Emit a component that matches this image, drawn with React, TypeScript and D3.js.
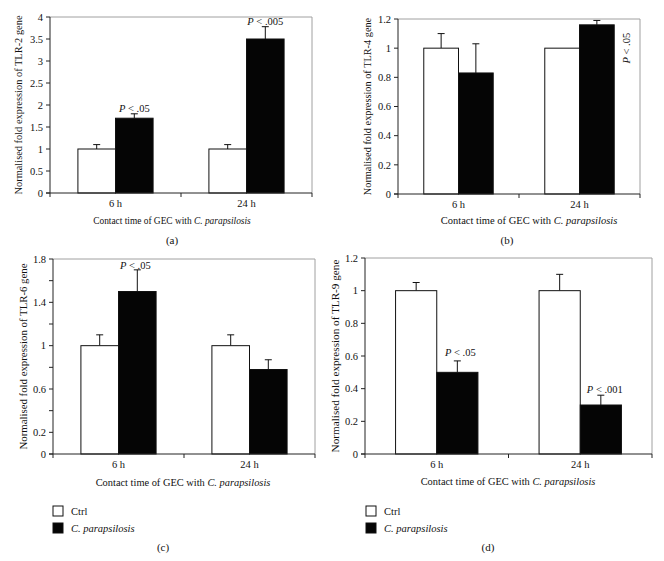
import React from "react";
import * as d3 from "d3";

const categories = ["6 h", "24 h"];
const seriesNames = ["Ctrl", "C. parapsilosis"];

// TLR-2
const tlr2Ctrl = [1, 1];
const tlr2CtrlErr = [0.1, 0.1];
const tlr2Cp = [1.7, 3.5];
const tlr2CpErr = [0.1, 0.28];
const tlr2P = ["P < .05", "P < .005"];
const tlr2Ticks = [0, 0.5, 1, 1.5, 2, 2.5, 3, 3.5, 4];
const tlr2Labels = ["0", "0.5", "1", "1.5", "2", "2.5", "3", "3.5", "4"];

// TLR-4
const tlr4Ctrl = [1, 1];
const tlr4CtrlErr = [0.1, 0];
const tlr4Cp = [0.83, 1.16];
const tlr4CpErr = [0.2, 0.03];
const tlr4P = ["", "P < .05"];
const tlr4Ticks = [0, 0.2, 0.4, 0.6, 0.8, 1, 1.2];
const tlr4Labels = ["0", "0.2", "0.4", "0.6", "0.8", "1", "1.2"];

// TLR-6
const tlr6Ctrl = [1, 1];
const tlr6CtrlErr = [0.1, 0.1];
const tlr6Cp = [1.5, 0.78];
const tlr6CpErr = [0.2, 0.09];
const tlr6P = ["P < .05", ""];
const tlr6Ticks = [0, 0.2, 0.4, 0.6, 0.8, 1, 1.2, 1.4, 1.6, 1.8];
const tlr6Labels = ["0", "0.2", "", "0.6", "", "1", "", "1.4", "", "1.8"];

// TLR-9
const tlr9Ctrl = [1, 1];
const tlr9CtrlErr = [0.05, 0.1];
const tlr9Cp = [0.5, 0.3];
const tlr9CpErr = [0.07, 0.06];
const tlr9P = ["P < .05", "P < .001"];
const tlr9Ticks = [0, 0.2, 0.4, 0.6, 0.8, 1, 1.2];
const tlr9Labels = ["0", "0.2", "0.4", "0.6", "0.8", "1", "1.2"];

const FONT = "'Liberation Serif', 'Times New Roman', serif";

type Panel = {
  gene: string;
  ctrl: number[];
  ctrlErr: number[];
  cp: number[];
  cpErr: number[];
  p: string[];
  ticks: number[];
  labels: string[];
  yMax: number;
  x0: number; x1: number; yTop: number; yBot: number;
  yTitleX: number; yTitleSize: number;
  xTitleX: number; xTitleY: number; xTitleSize: number;
  caption: string; capX: number; capY: number;
  pRot?: boolean;
  pDy: number[]; pDx: number[];
  legend?: { x: number; y: number };
};

const panels: Panel[] = [
  {
    gene: "TLR-2", ctrl: tlr2Ctrl, ctrlErr: tlr2CtrlErr, cp: tlr2Cp, cpErr: tlr2CpErr, p: tlr2P,
    ticks: tlr2Ticks, labels: tlr2Labels, yMax: 4,
    x0: 50, x1: 312, yTop: 17, yBot: 193,
    yTitleX: 18, yTitleSize: 10.4, xTitleX: 172, xTitleY: 224, xTitleSize: 9.4,
    caption: "(a)", capX: 172, capY: 244, pDy: [2, 2], pDx: [0, 0],
  },
  {
    gene: "TLR-4", ctrl: tlr4Ctrl, ctrlErr: tlr4CtrlErr, cp: tlr4Cp, cpErr: tlr4CpErr, p: tlr4P,
    ticks: tlr4Ticks, labels: tlr4Labels, yMax: 1.2,
    x0: 398, x1: 640, yTop: 19, yBot: 194,
    yTitleX: 367, yTitleSize: 10.3, xTitleX: 529, xTitleY: 224, xTitleSize: 10.5,
    caption: "(b)", capX: 507, capY: 244, pRot: true, pDy: [0, 0], pDx: [0, 0],
  },
  {
    gene: "TLR-6", ctrl: tlr6Ctrl, ctrlErr: tlr6CtrlErr, cp: tlr6Cp, cpErr: tlr6CpErr, p: tlr6P,
    ticks: tlr6Ticks, labels: tlr6Labels, yMax: 1.8,
    x0: 53, x1: 315, yTop: 259, yBot: 454,
    yTitleX: 23, yTitleSize: 10.8, xTitleX: 183, xTitleY: 486, xTitleSize: 10.4,
    caption: "(c)", capX: 163, capY: 551, pDy: [1, 1], pDx: [-2, 0],
    legend: { x: 53, y: 506 },
  },
  {
    gene: "TLR-9", ctrl: tlr9Ctrl, ctrlErr: tlr9CtrlErr, cp: tlr9Cp, cpErr: tlr9CpErr, p: tlr9P,
    ticks: tlr9Ticks, labels: tlr9Labels, yMax: 1.2,
    x0: 365, x1: 652, yTop: 258, yBot: 454,
    yTitleX: 335, yTitleSize: 11.2, xTitleX: 508, xTitleY: 485, xTitleSize: 10.4,
    caption: "(d)", capX: 488, capY: 551, pDy: [5, 2], pDx: [3, 4],
    legend: { x: 366, y: 506 },
  },
];

function ChartPanel({ pn }: { pn: Panel }) {
  const xBand = d3.scaleBand<string>().domain(categories).range([pn.x0, pn.x1]).padding(0);
  const barW = xBand.bandwidth() * 0.287;
  const xSeries = d3.scaleBand<string>().domain(seriesNames).range([-barW, barW]).padding(0);
  const y = d3.scaleLinear().domain([0, pn.yMax]).range([pn.yBot, pn.yTop]);
  const vals = [pn.ctrl, pn.cp];
  const errs = [pn.ctrlErr, pn.cpErr];
  const boundaries = [pn.x0, ...categories.map((c) => (xBand(c) as number) + xBand.bandwidth())];
  const axisColor = "#222";
  const frameColor = "#a0a0a0";
  const yMid = (pn.yTop + pn.yBot) / 2;
  return (
    <g fontFamily={FONT} fill="#111">
      {/* frame */}
      <line x1={pn.x0} x2={pn.x1} y1={pn.yTop} y2={pn.yTop} stroke={frameColor} strokeWidth={1} />
      <line x1={pn.x1} x2={pn.x1} y1={pn.yTop} y2={pn.yBot} stroke={frameColor} strokeWidth={1} />
      {/* bars */}
      {categories.map((c, ci) =>
        seriesNames.map((s, si) => {
          const cx = (xBand(c) as number) + xBand.bandwidth() / 2;
          const bx = cx + (xSeries(s) as number);
          const v = vals[si][ci];
          const e = errs[si][ci];
          const mid = bx + barW / 2;
          return (
            <g key={c + s}>
              {e > 0 && (
                <g stroke="#111" strokeWidth={1}>
                  <line x1={mid} x2={mid} y1={y(v)} y2={y(v + e)} />
                  <line x1={mid - 3.5} x2={mid + 3.5} y1={y(v + e)} y2={y(v + e)} />
                </g>
              )}
              <rect
                x={bx}
                y={y(v)}
                width={barW}
                height={y(0) - y(v)}
                fill={si === 0 ? "#fff" : "#050505"}
                stroke="#111"
                strokeWidth={1}
              />
            </g>
          );
        })
      )}
      {/* p labels */}
      {categories.map((c, ci) => {
        const txt = pn.p[ci];
        if (!txt) return null;
        const cx = (xBand(c) as number) + xBand.bandwidth() / 2;
        const mid = cx + (xSeries(seriesNames[1]) as number) + barW / 2;
        const top = y(pn.cp[ci] + pn.cpErr[ci]);
        const parts = txt.split(" ");
        const rest = txt.slice(1);
        if (pn.pRot) {
          const tx = mid + barW / 2 + 12;
          const ty = y(1.0);
          return (
            <text key={c} x={tx} y={ty} transform={`rotate(-90 ${tx} ${ty})`} textAnchor="middle" fontSize={10.5} dy="0.35em">
              <tspan fontStyle="italic">P</tspan>
              {rest}
            </text>
          );
        }
        void parts;
        return (
          <text key={c} x={mid + pn.pDx[ci]} y={top - pn.pDy[ci]} textAnchor="middle" fontSize={10.5}>
            <tspan fontStyle="italic">P</tspan>
            {rest}
          </text>
        );
      })}
      {/* y axis */}
      <line x1={pn.x0} x2={pn.x0} y1={pn.yTop} y2={pn.yBot} stroke={axisColor} strokeWidth={1} />
      {pn.ticks.map((t, i) => (
        <g key={"yt" + i}>
          <line x1={pn.x0 - 4} x2={pn.x0} y1={y(t)} y2={y(t)} stroke={axisColor} strokeWidth={1} />
          {pn.labels[i] && (
            <text x={pn.x0 - 7} y={y(t)} dy="0.35em" textAnchor="end" fontSize={10.5}>
              {pn.labels[i]}
            </text>
          )}
        </g>
      ))}
      {/* x axis */}
      <line x1={pn.x0 - 4} x2={pn.x1} y1={pn.yBot} y2={pn.yBot} stroke={axisColor} strokeWidth={1} />
      {boundaries.map((b, i) => (
        <line key={"xt" + i} x1={b} x2={b} y1={pn.yBot} y2={pn.yBot + 4} stroke={axisColor} strokeWidth={1} />
      ))}
      {categories.map((c) => (
        <text key={"xl" + c} x={(xBand(c) as number) + xBand.bandwidth() / 2} y={pn.yBot + 14} textAnchor="middle" fontSize={10.5}>
          {c}
        </text>
      ))}
      {/* titles */}
      <text
        x={pn.yTitleX}
        y={yMid}
        transform={`rotate(-90 ${pn.yTitleX} ${yMid})`}
        textAnchor="middle"
        dy="0.35em"
        fontSize={pn.yTitleSize}
      >
        {`Normalised fold expression of ${pn.gene} gene`}
      </text>
      <text x={pn.xTitleX} y={pn.xTitleY} textAnchor="middle" fontSize={pn.xTitleSize}>
        Contact time of GEC with <tspan fontStyle="italic">C. parapsilosis</tspan>
      </text>
      <text x={pn.capX} y={pn.capY} textAnchor="middle" fontSize={11}>
        {pn.caption}
      </text>
      {pn.legend &&
        seriesNames.map((s, i) => (
          <g key={"lg" + s}>
            <rect
              x={pn.legend!.x}
              y={pn.legend!.y + i * 17}
              width={10}
              height={10}
              fill={i === 0 ? "#fff" : "#050505"}
              stroke="#111"
              strokeWidth={1}
            />
            <text
              x={pn.legend!.x + 18}
              y={pn.legend!.y + i * 17 + 5}
              dy="0.35em"
              fontSize={10.5}
              fontStyle={i === 1 ? "italic" : "normal"}
            >
              {s}
            </text>
          </g>
        ))}
    </g>
  );
}

export default function App() {
  return (
    <svg
      width={664}
      height={561}
      viewBox="0 0 664 561"
      style={{ position: "absolute", left: 0, top: 0, background: "#fff" }}
    >
      <rect x={0} y={0} width={664} height={561} fill="#fff" />
      {panels.map((pn) => (
        <ChartPanel key={pn.caption} pn={pn} />
      ))}
    </svg>
  );
}
